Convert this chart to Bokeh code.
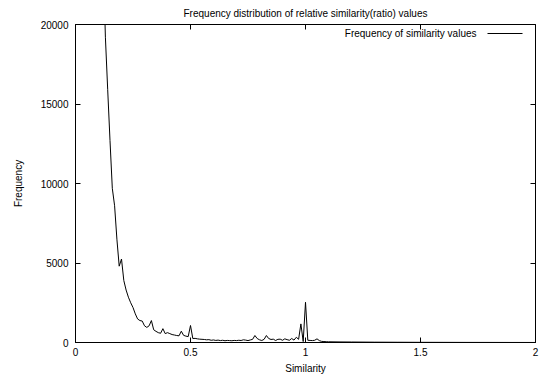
from bokeh.plotting import figure
from bokeh.models import (Range1d, FixedTicker, LinearAxis, CustomJSTickFormatter,
                          BoxAnnotation, Label)
from bokeh.embed import file_html
from bokeh.resources import INLINE

similarity = [
    0.10, 0.11, 0.12, 0.13, 0.14, 0.15, 0.16, 0.17, 0.18, 0.19,
    0.20, 0.21, 0.22, 0.23, 0.24, 0.25, 0.26, 0.27, 0.28, 0.29,
    0.30, 0.31, 0.32, 0.33, 0.34, 0.35, 0.36, 0.37, 0.38, 0.39,
    0.40, 0.41, 0.42, 0.43, 0.44, 0.45, 0.46, 0.47, 0.48, 0.49,
    0.50, 0.51, 0.52, 0.53, 0.54, 0.55, 0.56, 0.57, 0.58, 0.59,
    0.60, 0.61, 0.62, 0.63, 0.64, 0.65, 0.66, 0.67, 0.68, 0.69,
    0.70, 0.71, 0.72, 0.73, 0.74, 0.75, 0.76, 0.77, 0.78, 0.79,
    0.80, 0.81, 0.82, 0.83, 0.84, 0.85, 0.86, 0.87, 0.88, 0.89,
    0.90, 0.91, 0.92, 0.93, 0.94, 0.95, 0.96, 0.97, 0.98, 0.99,
    1.00, 1.01, 1.02, 1.03, 1.04, 1.05, 1.06, 1.07, 1.08, 1.09,
    1.10, 1.15, 1.20, 1.30, 1.40, 1.50, 1.60, 1.70, 1.80, 1.90, 2.00,
]
frequency = [
    38000, 30000, 24500, 19200, 15900, 12700, 9700, 8600, 6500, 4800,
    5250, 3900, 3300, 2850, 2500, 2200, 1800, 1480, 1380, 1350,
    1050, 950, 1050, 1380, 800, 700, 620, 580, 870, 560,
    620, 560, 500, 470, 440, 420, 710, 450, 400, 370,
    1070, 250, 260, 230, 210, 200, 190, 170, 180, 140,
    160, 130, 150, 120, 140, 110, 130, 120, 110, 130,
    120, 140, 125, 170, 150, 120, 160, 200, 440, 250,
    170, 125, 200, 440, 250, 190, 210, 125, 200, 210,
    140, 230, 180, 140, 250, 150, 330, 200, 1170, 60,
    2530, 140, 130, 120, 140, 230, 120, 70, 60, 50,
    45, 35, 30, 20, 15, 10, 8, 5, 4, 2, 1,
]
x_ticks = [0, 0.5, 1, 1.5, 2]
y_ticks = [0, 5000, 10000, 15000, 20000]

FONT = "Liberation Sans"
FS = "10px"

p = figure(width=546, height=380, output_backend="svg", toolbar_location=None,
           x_range=Range1d(0, 2), y_range=Range1d(0, 20000),
           min_border_left=75, min_border_right=11, min_border_top=23,
           min_border_bottom=38)
p.background_fill_color = "white"
p.border_fill_color = "white"
p.outline_line_color = "black"
p.outline_line_width = 1
p.outline_line_alpha = 1
p.xgrid.visible = False
p.ygrid.visible = False

p.title.text = "Frequency distribution of relative similarity(ratio) values"
p.title.align = "center"
p.title.text_font = FONT
p.title.text_font_size = FS
p.title.text_font_style = "normal"
p.title.text_color = "black"
p.title.standoff = 11

fmt = CustomJSTickFormatter(code="return String(tick);")
blank = CustomJSTickFormatter(code="return '';")

def style_axis(ax, ticks, show_labels):
    ax.ticker = FixedTicker(ticks=ticks)
    ax.major_tick_in = 5
    ax.major_tick_out = 0
    ax.minor_tick_in = 0
    ax.minor_tick_out = 0
    ax.major_tick_line_color = "black"
    ax.axis_line_color = "black"
    ax.major_label_text_font = FONT
    ax.major_label_text_font_size = FS
    ax.major_label_text_color = "black"
    ax.axis_label_text_font = FONT
    ax.axis_label_text_font_size = FS
    ax.axis_label_text_font_style = "normal"
    ax.axis_label_text_color = "black"
    if not show_labels:
        ax.formatter = blank
        ax.major_label_standoff = 0
        ax.axis_line_color = None

xa = p.xaxis[0]
ya = p.yaxis[0]
style_axis(xa, x_ticks, True)
style_axis(ya, y_ticks, True)
xa.formatter = fmt
xa.axis_label = "Similarity"
ya.axis_label = "Frequency"
xa.major_label_standoff = 5
xa.axis_label_standoff = 4
ya.major_label_standoff = 7
ya.axis_label_standoff = 14

top = LinearAxis()
style_axis(top, x_ticks, False)
p.add_layout(top, "above")
right = LinearAxis()
style_axis(right, y_ticks, False)
p.add_layout(right, "right")

p.line(similarity, frequency, line_color="black", line_width=1)

# legend: text right-aligned, sample line to its right
p.add_layout(BoxAnnotation(left=412, right=447, top=309.5, bottom=308.5,
                           left_units="screen", right_units="screen",
                           top_units="screen", bottom_units="screen",
                           fill_color="black", fill_alpha=1, line_color=None))
p.add_layout(Label(x=401, y=309, x_units="screen", y_units="screen",
                   text="Frequency of similarity values", text_align="right",
                   text_baseline="middle", text_font=FONT, text_font_size=FS,
                   text_color="black"))

open("out.html", "w").write(file_html(p, INLINE))
